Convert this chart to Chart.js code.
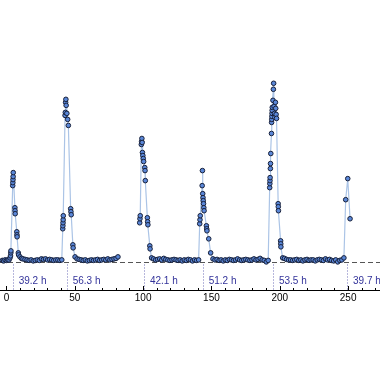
<!DOCTYPE html>
<html>
<head>
<meta charset="utf-8">
<script src="https://cdn.jsdelivr.net/npm/chart.js@4.4.1/dist/chart.umd.min.js"></script>
<style>
  html, body { margin: 0; padding: 0; background: #fff; }
  #wrap { width: 380px; height: 380px; }
</style>
</head>
<body>
<div id="wrap"><canvas id="cycleChart" width="380" height="380"></canvas></div>
<script>
// time (h) and level; null = no readings
const hours = [
  -3.0, -2.0, -1.0, 0.0, 1.0, 1.9, 2.6, 3.0, 3.2, 3.3,
  4.6, 4.7, 4.8, 4.9, 5.0, 6.2, 6.3, 6.4, 7.6, 7.7, 7.8, 8.7, 8.9, 9.9, 11.0,
  12.1, 13.6, 15.1, 16.6, 18.1, 19.6, 21.1, 22.6, 24.1, 25.6, 27.1, 28.6, 30.1, 31.6, 33.1, 34.6, 36.1, 37.6, 39.1, 40.5,
  41.2, 41.3, 41.4, 41.5, 41.6, 42.9, 43.1, 43.3, 43.5, 43.7, 44.2, 44.8, 45.3, 47.0, 47.2, 47.4, 48.6, 48.8,
  50.2, 51.7, 53.2, 54.7, 56.2, 57.7, 59.2, 60.7, 62.2, 63.7, 65.2, 66.7, 68.2, 69.7, 71.2, 72.7, 74.2, 75.7, 77.2, 78.7, 80.2, 81.6,
  90.0,
  97.5, 97.7, 97.9, 98.7, 98.9, 99.1, 99.3, 99.5, 99.8, 100.1, 100.4, 101.2, 101.4, 101.6, 103.1, 103.3, 103.5, 104.9, 105.1, 106.2,
  107.6, 109.1, 110.6, 112.1, 113.6, 115.1, 116.6, 118.1, 119.6, 121.1, 122.6, 124.1, 125.6, 127.1, 128.6, 130.1, 131.6, 133.1, 134.6, 136.1, 137.6, 139.1, 140.6,
  141.4, 141.6, 141.8, 143.2, 143.4, 143.6, 143.8, 144.0, 144.2, 144.4, 144.6, 146.3, 146.5, 146.7, 148.0, 149.4,
  151.1, 152.6, 154.1, 155.6, 157.1, 158.6, 160.1, 161.6, 163.1, 164.6, 166.1, 167.6, 169.1, 170.6, 172.1, 173.6, 175.1, 176.6, 178.1, 179.6, 181.1, 182.6, 184.1, 185.6, 187.1, 188.6, 190.1, 191.5,
  192.6, 192.7, 192.8, 192.9, 193.1, 193.2, 193.4, 193.9, 194.0, 194.1, 194.2, 194.3, 194.4, 194.5, 195.0, 195.3, 195.5, 195.8, 196.1, 196.4, 196.8, 197.0, 197.3, 197.6, 198.8, 198.9, 199.0, 200.6, 200.7, 200.8, 202.1,
  203.4, 204.9, 206.4, 207.9, 209.4, 210.9, 212.4, 213.9, 215.4, 216.9, 218.4, 219.9, 221.4, 222.9, 224.4, 225.9, 227.4, 228.9, 230.4, 231.9, 233.4, 234.9, 236.4, 237.9, 239.4, 240.9, 242.4, 243.9, 245.4, 246.9,
  248.2, 249.7, 251.4
];
const levels = [
  0.15, 0.1, 0.2, 0.15, 0.2, 0.2, 0.4, 0.6, 0.9, 1.1,
  7.6, 7.9, 8.2, 8.5, 8.9, 5.4, 5.1, 4.8, 3.0, 2.7, 2.5, 0.9, 0.7, 0.5, 0.35,
  0.3, 0.25, 0.2, 0.15, 0.2, 0.1, 0.15, 0.2, 0.15, 0.3, 0.25, 0.3, 0.2, 0.25, 0.2, 0.15, 0.2, 0.2, 0.15, 0.2,
  3.3, 3.6, 3.9, 4.2, 4.6, 14.6, 14.9, 15.9, 16.2, 15.6, 14.8, 14.2, 13.6, 5.3, 5.0, 4.7, 1.7, 1.4,
  0.5, 0.3, 0.25, 0.2, 0.15, 0.2, 0.1, 0.15, 0.2, 0.15, 0.2, 0.25, 0.15, 0.2, 0.25, 0.2, 0.3, 0.2, 0.25, 0.3, 0.35, 0.5,
  null,
  3.9, 4.3, 4.6, 11.7, 12.0, 12.3, 11.9, 10.9, 10.6, 10.3, 10.0, 9.4, 9.1, 8.1, 4.4, 4.0, 3.7, 1.6, 1.3, 0.4,
  0.3, 0.2, 0.25, 0.3, 0.2, 0.35, 0.25, 0.2, 0.15, 0.2, 0.25, 0.2, 0.15, 0.2, 0.1, 0.2, 0.15, 0.25, 0.2, 0.1, 0.2, 0.15, 0.2,
  3.8, 4.2, 4.6, 7.6, 9.1, 6.8, 6.4, 6.1, 5.8, 5.4, 5.1, 3.6, 3.3, 3.1, 2.3, 0.9,
  0.3, 0.2, 0.25, 0.15, 0.2, 0.1, 0.2, 0.15, 0.25, 0.2, 0.15, 0.2, 0.3, 0.2, 0.15, 0.2, 0.25, 0.2, 0.15, 0.2, 0.3, 0.2, 0.25, 0.35, 0.2, 0.15, 0.0, 0.15,
  7.4, 7.8, 8.1, 8.4, 9.3, 9.8, 10.8, 12.8, 13.9, 14.2, 14.5, 14.8, 15.1, 15.4, 16.1, 17.2, 17.8, 15.5, 14.8, 14.4, 15.9, 15.3, 14.7, 14.3, 5.8, 5.5, 5.1, 2.1, 1.8, 1.5, 0.4,
  0.35, 0.25, 0.2, 0.2, 0.15, 0.2, 0.25, 0.15, 0.2, 0.1, 0.2, 0.25, 0.15, 0.2, 0.2, 0.1, 0.2, 0.25, 0.2, 0.15, 0.3, 0.2, 0.25, 0.15, 0.1, 0.2, 0.0, 0.15, 0.2, 0.4,
  6.2, 8.3, 4.3
];

// cycle starts and the gaps between them
const cycleStarts = [4.6, 44.1, 100.6, 143.6, 195.0, 249.2];
const cycleLabels = ['39.2 h', '56.3 h', '42.1 h', '51.2 h', '53.5 h', '39.7 h'];

const axisTicks = [0, 10, 20, 30, 40, 50, 60, 70, 80, 90, 100, 110, 120, 130, 140, 150, 160, 170, 180, 190, 200, 210, 220, 230, 240, 250, 260, 270];

const points = hours.map((h, i) => ({ x: h, y: levels[i] }));

const cycleMarks = {
  id: 'cycleMarks',
  beforeDatasetsDraw(chart) {
    const { ctx, chartArea, scales: { x, y } } = chart;
    const y0 = Math.round(y.getPixelForValue(0)) + 0.5;
    ctx.save();
    ctx.lineWidth = 1;

    // dashed baseline
    ctx.strokeStyle = '#555';
    ctx.setLineDash([5, 3]);
    ctx.beginPath();
    ctx.moveTo(chartArea.left, y0);
    ctx.lineTo(chartArea.right, y0);
    ctx.stroke();

    // dotted cycle markers
    ctx.strokeStyle = '#6f6fb8';
    ctx.setLineDash([1, 2]);
    cycleStarts.forEach(h => {
      const px = Math.round(x.getPixelForValue(h)) + 0.5;
      ctx.beginPath();
      ctx.moveTo(px, y0 + 2);
      ctx.lineTo(px, chartArea.bottom);
      ctx.stroke();
    });
    ctx.setLineDash([]);

    ctx.fillStyle = '#33339a';
    ctx.font = '10px "Liberation Sans", Arial, sans-serif';
    ctx.textBaseline = 'middle';
    cycleStarts.forEach((h, i) => {
      ctx.fillText(cycleLabels[i], x.getPixelForValue(h) + 6, y0 + 19);
    });

    // inward tick marks
    ctx.strokeStyle = '#000';
    ctx.beginPath();
    x.ticks.forEach(t => {
      const px = Math.round(x.getPixelForValue(t.value)) + 0.5;
      const len = t.value % 50 === 0 ? 4 : 2;
      ctx.moveTo(px, chartArea.bottom);
      ctx.lineTo(px, chartArea.bottom - len);
    });
    ctx.stroke();
    ctx.restore();
  }
};

new Chart(document.getElementById('cycleChart').getContext('2d'), {
  type: 'scatter',
  data: {
    datasets: [{
      data: points,
      showLine: true,
      spanGaps: false,
      borderColor: '#abc4e6',
      borderWidth: 1.2,
      pointRadius: 2.3,
      pointBorderWidth: 1,
      pointBorderColor: '#17203a',
      pointBackgroundColor: '#5a87d8'
    }]
  },
  options: {
    responsive: false,
    animation: false,
    layout: { autoPadding: false, padding: { left: 0, right: 0, top: 0, bottom: 74 } },
    plugins: {
      legend: { display: false },
      tooltip: { enabled: false }
    },
    scales: {
      x: {
        type: 'linear',
        min: -4.7,
        max: 273.3,
        afterBuildTicks: scale => { scale.ticks = axisTicks.map(v => ({ value: v })); },
        grid: { display: false, drawTicks: false },
        border: { display: true, color: '#000', width: 1 },
        ticks: {
          autoSkip: false,
          maxRotation: 0,
          padding: 2,
          color: '#000',
          font: { family: '"Liberation Sans", Arial, sans-serif', size: 10 },
          callback: v => (v % 50 === 0 ? String(v) : '')
        }
      },
      y: {
        display: false,
        min: -2.8,
        max: 26.1
      }
    }
  },
  plugins: [cycleMarks]
});
</script>
</body>
</html>
